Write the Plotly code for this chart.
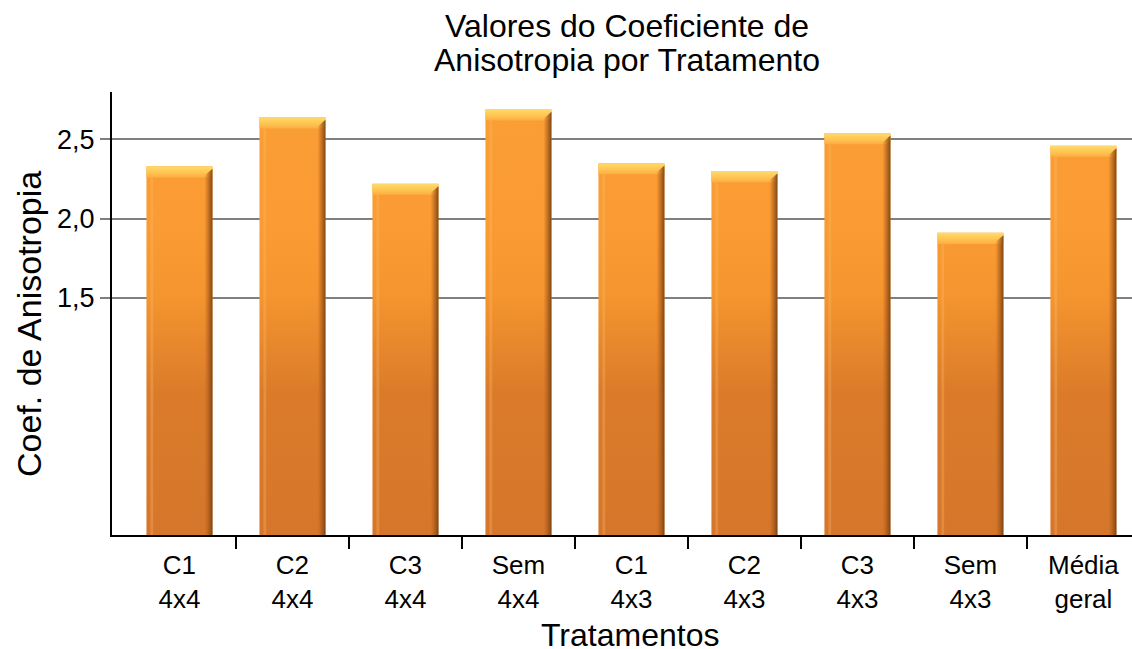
import plotly.graph_objects as go

# Coefficient of anisotropy per treatment
tratamentos = ["C1<br>4x4", "C2<br>4x4", "C3<br>4x4", "Sem<br>4x4",
               "C1<br>4x3", "C2<br>4x3", "C3<br>4x3", "Sem<br>4x3",
               "Média<br>geral"]
valores = [2.33, 2.64, 2.22, 2.69, 2.35, 2.30, 2.54, 1.91, 2.46]

y_ticks = [1.5, 2.0, 2.5]
y_tick_text = ["1,5", "2,0", "2,5"]

titulo = ["Valores do Coeficiente de", "Anisotropia por Tratamento"]
titulo_x = "Tratamentos"
titulo_y = "Coef. de Anisotropia"

FONT = "Liberation Sans, Arial, sans-serif"

# plot area in pixels (used to place free text in paper coordinates)
L, T, W, H = 112, 92, 1020, 443


def px(xp):
    return (xp - L) / W


def py(yp):
    return (T + H - yp) / H


# bar geometry in data units
HALF_W = 0.292      # half bar width (category units)
SIDE_W = 0.072      # shaded right-hand face
CAP_H = 0.07        # light top face

Y_MIN, Y_MAX = 0.0, 2.8
X_MIN, X_MAX = -0.597, 8.43

fig = go.Figure()

# body of every bar: one trace, vertical gradient in data coordinates
bx, by = [], []
for i, v in enumerate(valores):
    bx += [i - HALF_W, i + HALF_W, i + HALF_W, i - HALF_W, i - HALF_W, None]
    by += [0, 0, v, v, 0, None]
fig.add_trace(go.Scatter(
    x=bx, y=by, mode="lines", fill="toself", line=dict(width=0),
    fillgradient=dict(
        type="vertical", start=0, stop=Y_MAX,
        colorscale=[[0.0, "#D6762A"], [0.32, "#DB7B2A"], [0.54, "#F4952F"],
                    [0.70, "#FA9B33"], [1.0, "#FB9E35"]]),
    hoverinfo="skip", showlegend=False))

# faint highlight near the left edge
hx, hy = [], []
for i, v in enumerate(valores):
    x0 = i - HALF_W + 0.035
    x1 = x0 + 0.025
    hx += [x0, x1, x1, x0, x0, None]
    hy += [0, 0, v - CAP_H, v - CAP_H, 0, None]
fig.add_trace(go.Scatter(
    x=hx, y=hy, mode="lines", fill="toself", line=dict(width=0),
    fillcolor="rgba(255,190,110,0.30)", hoverinfo="skip", showlegend=False))

# top face of each bar
for i, v in enumerate(valores):
    fig.add_trace(go.Scatter(
        x=[i - HALF_W, i + HALF_W, i + HALF_W, i - HALF_W, i - HALF_W],
        y=[v - CAP_H, v - CAP_H, v, v, v - CAP_H],
        mode="lines", fill="toself", line=dict(width=0),
        fillgradient=dict(
            type="vertical", start=v - CAP_H, stop=v,
            colorscale=[[0.0, "#FDAE42"], [0.45, "#FFC553"], [1.0, "#FFDB6C"]]),
        hoverinfo="skip", showlegend=False))

# shaded right face of each bar
for i, v in enumerate(valores):
    x0, x1 = i + HALF_W - SIDE_W, i + HALF_W
    fig.add_trace(go.Scatter(
        x=[x0, x1, x1, x0, x0],
        y=[0, 0, v - 0.015, v - CAP_H + 0.01, 0],
        mode="lines", fill="toself", line=dict(width=0),
        fillgradient=dict(
            type="horizontal", start=x0, stop=x1,
            colorscale=[[0.0, "rgba(190,100,30,0)"], [0.45, "rgba(165,88,25,0.55)"],
                        [1.0, "rgba(115,62,18,0.92)"]]),
        hoverinfo="skip", showlegend=False))

# two-line title, one annotation per line for a tight line pitch
for k, linha in enumerate(titulo):
    fig.add_annotation(
        text=linha, xref="paper", yref="paper",
        x=px(627), y=py(26 + 34 * k),
        xanchor="center", yanchor="middle", showarrow=False,
        font=dict(family=FONT, size=32, color="black"))

# axis titles
fig.add_annotation(
    text=titulo_x, xref="paper", yref="paper", x=px(630), y=py(635),
    xanchor="center", yanchor="middle", showarrow=False,
    font=dict(family=FONT, size=32, color="black"))
fig.add_annotation(
    text=titulo_y, xref="paper", yref="paper", x=px(29), y=py(324),
    xanchor="center", yanchor="middle", textangle=-90, showarrow=False,
    font=dict(family=FONT, size=34, color="black"))

fig.update_layout(
    width=1132, height=649,
    margin=dict(l=L, r=1132 - L - W, t=T, b=649 - T - H),
    paper_bgcolor="white", plot_bgcolor="white",
    font=dict(family=FONT, color="black", size=26),
    showlegend=False,
)

fig.update_xaxes(
    range=[X_MIN, X_MAX],
    tickmode="array", tickvals=list(range(len(tratamentos))), ticktext=tratamentos,
    ticks="", showgrid=False, zeroline=False,
    showline=True, linecolor="black", linewidth=2,
    tickfont=dict(size=26), ticklabelstandoff=6,
    minor=dict(tickmode="array", tickvals=[k + 0.5 for k in range(len(tratamentos) - 1)],
               ticks="outside", ticklen=12, tickwidth=2, tickcolor="black",
               showgrid=False),
)

fig.update_yaxes(
    range=[Y_MIN, Y_MAX],
    tickmode="array", tickvals=y_ticks, ticktext=y_tick_text,
    ticks="outside", ticklen=10, tickwidth=2, tickcolor="#7f7f7f",
    showgrid=True, gridcolor="#7f7f7f", gridwidth=2, zeroline=False,
    showline=True, linecolor="black", linewidth=2,
    tickfont=dict(size=27),
)

fig.write_html("out.html")
